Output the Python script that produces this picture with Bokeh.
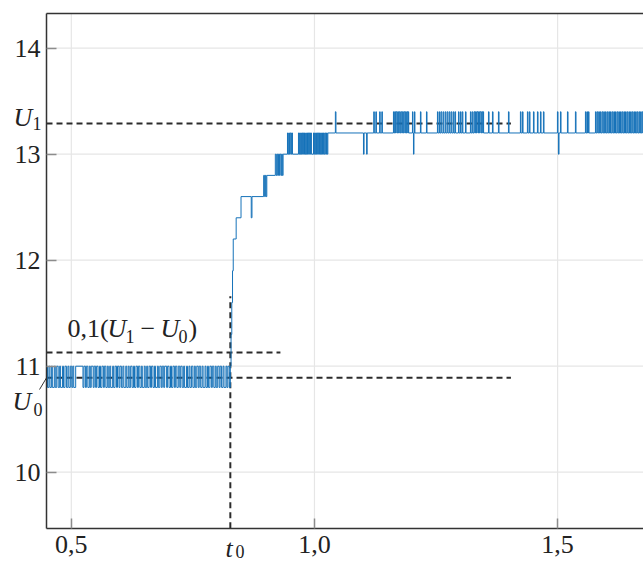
from bokeh.plotting import figure
from bokeh.models import FixedTicker, Label, Range1d
from bokeh.embed import file_html
from bokeh.resources import INLINE

# ---- axes / ticks ----
y_ticks = [10, 11, 12, 13, 14]
x_ticks = [0.5, 1.0, 1.5]
x_tick_labels = ["0,5", "1,0", "1,5"]
x_min, x_max = 0.449, 1.6766      # plotted time span (axis box)
y_min, y_max = 9.472, 14.327      # plotted voltage span (axis box)
x_view = (0.3544, 1.6766)         # whole picture incl. label margins
y_view = (9.139, 14.4496)

# ---- characteristic levels ----
U0 = 10.89
U1 = 13.29
U_10 = 11.13          # U0 + 0,1(U1 - U0)
t0 = 0.827
u_line_end = 1.404    # end of U0 / U1 dashed lines
u10_line_end = 0.930  # end of 0,1(U1-U0) dashed line
t0_line_top = 11.66   # top of t0 dashed line
leader_end = (0.4346, 10.78)  # end of U0 leader line

# ---- measured signal: before the step ----
t_pre = [0.449, 0.451, 0.454, 0.456, 0.459, 0.461, 0.465, 0.467, 0.470, 0.473,
         0.476, 0.478, 0.482, 0.484, 0.487, 0.490, 0.493, 0.495, 0.498, 0.501,
         0.503, 0.505, 0.509, 0.524, 0.526, 0.529, 0.531, 0.534, 0.537, 0.539,
         0.541, 0.545, 0.547, 0.550, 0.552, 0.555, 0.558, 0.560, 0.563, 0.566,
         0.568, 0.571, 0.574, 0.576, 0.579, 0.581, 0.585, 0.587, 0.590, 0.593,
         0.595, 0.598, 0.600, 0.603, 0.606, 0.608, 0.612, 0.614, 0.617, 0.619,
         0.622, 0.625, 0.628, 0.630, 0.633, 0.636, 0.638, 0.641, 0.644, 0.646,
         0.650, 0.652, 0.655, 0.657, 0.660, 0.663, 0.665, 0.668, 0.671, 0.673,
         0.677, 0.679, 0.682, 0.685, 0.687, 0.690, 0.692, 0.696, 0.698, 0.701,
         0.704, 0.706, 0.709, 0.712, 0.714, 0.717, 0.720, 0.723, 0.725, 0.728,
         0.731, 0.733, 0.737, 0.739, 0.742, 0.744, 0.747, 0.750, 0.753, 0.755,
         0.758, 0.761, 0.763, 0.766, 0.769, 0.771, 0.775, 0.777, 0.780, 0.782,
         0.785, 0.788, 0.790, 0.793, 0.796, 0.798, 0.801, 0.804, 0.806, 0.809,
         0.812, 0.814, 0.818, 0.820, 0.822, 0.825, 0.827]
u_pre = [11.0, 10.8, 11.0, 10.8, 11.0, 10.8, 11.0, 10.8, 11.0, 10.8,
         11.0, 10.8, 11.0, 10.8, 11.0, 10.8, 11.0, 10.8, 11.0, 10.8,
         11.0, 10.8, 11.0, 10.8, 11.0, 10.8, 11.0, 10.8, 11.0, 10.8,
         11.0, 10.8, 11.0, 10.8, 11.0, 10.8, 11.0, 10.8, 11.0, 10.8,
         11.0, 10.8, 11.0, 10.8, 11.0, 10.8, 11.0, 10.8, 11.0, 10.8,
         11.0, 10.8, 11.0, 10.8, 11.0, 10.8, 11.0, 10.8, 11.0, 10.8,
         11.0, 10.8, 11.0, 10.8, 11.0, 10.8, 11.0, 10.8, 11.0, 10.8,
         11.0, 10.8, 11.0, 10.8, 11.0, 10.8, 11.0, 10.8, 11.0, 10.8,
         11.0, 10.8, 11.0, 10.8, 11.0, 10.8, 11.0, 10.8, 11.0, 10.8,
         11.0, 10.8, 11.0, 10.8, 11.0, 10.8, 11.0, 10.8, 11.0, 10.8,
         11.0, 10.8, 11.0, 10.8, 11.0, 10.8, 11.0, 10.8, 11.0, 10.8,
         11.0, 10.8, 11.0, 10.8, 11.0, 10.8, 11.0, 10.8, 11.0, 10.8,
         11.0, 10.8, 11.0, 10.8, 11.0, 10.8, 11.0, 10.8, 11.0, 10.8,
         11.0, 10.8, 11.0, 10.8, 11.0, 10.8, 11.0]

# ---- rise ----
t_rise = [0.8285, 0.830, 0.8315, 0.833, 0.839, 0.849, 0.870, 0.8715, 0.8955, 0.8975,
          0.899, 0.9005, 0.902, 0.9195, 0.9215, 0.923, 0.9245, 0.926, 0.928, 0.929,
          0.931, 0.9325, 0.934, 0.9355]
u_rise = [11.3, 11.6, 11.9, 12.2, 12.4, 12.6, 12.4, 12.6, 12.8, 12.6,
          12.8, 12.6, 12.8, 13.0, 12.8, 13.0, 12.8, 13.0, 12.8, 13.0,
          12.8, 13.0, 12.8, 13.0]

# ---- settling 13.0 / 13.2 ----
t_mid = [0.9445, 0.9458, 0.9472, 0.9486, 0.9500, 0.9515, 0.9530, 0.9548,
         0.9671, 0.9683, 0.9695, 0.9708, 0.9720, 0.9731, 0.9745, 0.9757, 0.9770, 0.9781,
         0.9795, 0.9806, 0.9820, 0.9832, 0.9844, 0.9857, 0.9869, 0.9881, 0.9894, 0.9906,
         0.9918, 0.9938,
         0.9980, 0.9992, 1.0004, 1.0017, 1.0029, 1.0041, 1.0054, 1.0066, 1.0079, 1.0091,
         1.0103, 1.0116, 1.0128, 1.0140, 1.0152, 1.0165,
         1.0185, 1.0198, 1.0212, 1.0230, 1.0248, 1.0262, 1.0275]
u_mid = [13.2, 13.0, 13.2, 13.0, 13.2, 13.0, 13.2, 13.0,
         13.2, 13.0, 13.2, 13.0, 13.2, 13.0, 13.2, 13.0, 13.2, 13.0,
         13.2, 13.0, 13.2, 13.0, 13.2, 13.0, 13.2, 13.0, 13.2, 13.0,
         13.2, 13.0,
         13.2, 13.0, 13.2, 13.0, 13.2, 13.0, 13.2, 13.0, 13.2, 13.0,
         13.2, 13.0, 13.2, 13.0, 13.2, 13.0,
         13.2, 13.0, 13.2, 13.0, 13.2, 13.0, 13.2]

# ---- steady state 13.2 with spikes ----
t_post = [1.0430, 1.0442, 1.1008, 1.1020, 1.1072, 1.1084,
          1.1219, 1.1231, 1.1262, 1.1274, 1.1340, 1.1352, 1.1385, 1.1397,
          1.1624, 1.1640, 1.1652, 1.1668, 1.1680, 1.1700, 1.1712, 1.1730, 1.1744, 1.1762,
          1.1775, 1.1795, 1.1808, 1.1826, 1.1838, 1.1858, 1.1870, 1.1890, 1.1903, 1.1920,
          1.1928, 1.1938,
          1.2015, 1.2025, 1.2036, 1.2046, 1.2056, 1.2066,
          1.2179, 1.2190, 1.2303, 1.2314,
          1.2529, 1.2541, 1.2570, 1.2582, 1.2605, 1.2620, 1.2648, 1.2660, 1.2690, 1.2703,
          1.2730, 1.2745, 1.2772, 1.2786, 1.2812, 1.2826, 1.2855, 1.2868, 1.2890, 1.2902,
          1.2961, 1.2973, 1.3002, 1.3014, 1.3040, 1.3052, 1.3105, 1.3117,
          1.3207, 1.3220, 1.3245, 1.3258, 1.3282, 1.3298, 1.3310, 1.3330, 1.3342, 1.3362,
          1.3374, 1.3395, 1.3406, 1.3428, 1.3440, 1.3460, 1.3468, 1.3478,
          1.3578, 1.3590, 1.3660, 1.3672, 1.3783, 1.3795, 1.3989, 1.4001,
          1.4235, 1.4247, 1.4277, 1.4289, 1.4379, 1.4391, 1.4420, 1.4432,
          1.4503, 1.4515, 1.4585, 1.4597, 1.4647, 1.4659, 1.4708, 1.4720,
          1.4996, 1.5008, 1.5017, 1.5029, 1.5058, 1.5070, 1.5202, 1.5214, 1.5366, 1.5378,
          1.5572, 1.5584, 1.5603, 1.5615, 1.5634, 1.5646,
          1.5778, 1.5792, 1.5812, 1.5826, 1.5845, 1.5860, 1.5880, 1.5893, 1.5915, 1.5930,
          1.5948, 1.5962, 1.5983, 1.5997, 1.6018, 1.6031, 1.6052, 1.6068, 1.6087, 1.6100,
          1.6122, 1.6136, 1.6155, 1.6170, 1.6190, 1.6203, 1.6225, 1.6240, 1.6258, 1.6272,
          1.6293, 1.6307, 1.6327, 1.6341, 1.6362, 1.6376, 1.6396, 1.6410, 1.6430, 1.6444,
          1.6465, 1.6479, 1.6500, 1.6514, 1.6534, 1.6548, 1.6568, 1.6582, 1.6603, 1.6617,
          1.6637, 1.6651, 1.6672, 1.6686, 1.6706, 1.6720, 1.6740, 1.6754, 1.6770]
u_post = [13.4, 13.2, 13.0, 13.2, 13.0, 13.2,
          13.4, 13.2, 13.4, 13.2, 13.4, 13.2, 13.4, 13.2,
          13.4, 13.2, 13.4, 13.2, 13.4, 13.2, 13.4, 13.2, 13.4, 13.2,
          13.4, 13.2, 13.4, 13.2, 13.4, 13.2, 13.4, 13.2, 13.4, 13.2,
          13.4, 13.2,
          13.4, 13.2, 13.0, 13.2, 13.4, 13.2,
          13.4, 13.2, 13.4, 13.2,
          13.4, 13.2, 13.4, 13.2, 13.4, 13.2, 13.4, 13.2, 13.4, 13.2,
          13.4, 13.2, 13.4, 13.2, 13.4, 13.2, 13.4, 13.2, 13.4, 13.2,
          13.4, 13.2, 13.4, 13.2, 13.4, 13.2, 13.4, 13.2,
          13.4, 13.2, 13.4, 13.2, 13.4, 13.2, 13.4, 13.2, 13.4, 13.2,
          13.4, 13.2, 13.4, 13.2, 13.4, 13.2, 13.4, 13.2,
          13.4, 13.2, 13.4, 13.2, 13.4, 13.2, 13.4, 13.2,
          13.4, 13.2, 13.4, 13.2, 13.4, 13.2, 13.4, 13.2,
          13.4, 13.2, 13.4, 13.2, 13.4, 13.2, 13.4, 13.2,
          13.4, 13.2, 13.0, 13.2, 13.4, 13.2, 13.4, 13.2, 13.4, 13.2,
          13.4, 13.2, 13.4, 13.2, 13.4, 13.2,
          13.4, 13.2, 13.4, 13.2, 13.4, 13.2, 13.4, 13.2, 13.4, 13.2,
          13.4, 13.2, 13.4, 13.2, 13.4, 13.2, 13.4, 13.2, 13.4, 13.2,
          13.4, 13.2, 13.4, 13.2, 13.4, 13.2, 13.4, 13.2, 13.4, 13.2,
          13.4, 13.2, 13.4, 13.2, 13.4, 13.2, 13.4, 13.2, 13.4, 13.2,
          13.4, 13.2, 13.4, 13.2, 13.4, 13.2, 13.4, 13.2, 13.4, 13.2,
          13.4, 13.2, 13.4, 13.2, 13.4, 13.2, 13.4, 13.2, 13.2]

t_all = t_pre + t_rise + t_mid + t_post
u_all = u_pre + u_rise + u_mid + u_post

SERIF = "Liberation Serif"
FS = "26px"
FS_SUB = "18px"
DASH_COL = "#2b2b2b"
AXIS_COL = "#333333"
GRID_COL = "#e6e6e6"
BLUE = "#1672b9"

p = figure(width=643, height=563, output_backend="svg", toolbar_location=None,
           x_range=Range1d(*x_view), y_range=Range1d(*y_view),
           min_border=0, min_border_left=0, min_border_right=0,
           min_border_top=0, min_border_bottom=0)
p.outline_line_color = None
p.background_fill_color = "white"
p.border_fill_color = "white"
p.xgrid.visible = False
p.ygrid.visible = False

# axes drawn at the edges of the data box
xa, ya = p.xaxis[0], p.yaxis[0]
xa.fixed_location = y_min
ya.fixed_location = x_min
xa.bounds = (x_min, x_max)
ya.bounds = (y_min, y_max)
xa.ticker = FixedTicker(ticks=x_ticks)
xa.major_label_overrides = {v: s for v, s in zip(x_ticks, x_tick_labels)}
ya.ticker = FixedTicker(ticks=y_ticks)
for ax in (xa, ya):
    ax.axis_line_color = AXIS_COL
    ax.axis_line_width = 1.5
    ax.major_tick_in = 10
    ax.major_tick_out = 0
    ax.major_tick_line_color = "#8c8c8c"
    ax.major_tick_line_width = 1.5
    ax.minor_tick_line_color = None
    ax.major_label_text_font = SERIF
    ax.major_label_text_font_size = FS
    ax.major_label_text_color = "#222222"
ya.major_label_standoff = 6
xa.major_label_standoff = 8

# grid lines inside the data box
p.segment(x0=x_ticks, y0=[y_min] * len(x_ticks), x1=x_ticks, y1=[y_max] * len(x_ticks),
          line_color=GRID_COL, line_width=1.2, level="underlay")
p.segment(x0=[x_min] * len(y_ticks), y0=y_ticks, x1=[x_max] * len(y_ticks), y1=y_ticks,
          line_color=GRID_COL, line_width=1.2, level="underlay")
# top frame line
p.line([x_min, x_max], [y_max, y_max], line_color=AXIS_COL, line_width=1.5)

# dashed reference lines
dash = dict(line_color=DASH_COL, line_width=2, line_dash="6 4")
p.line([x_min, u_line_end], [U1, U1], **dash)
p.line([x_min, u_line_end], [U0, U0], **dash)
p.line([x_min, u10_line_end], [U_10, U_10], **dash)
p.line([t0, t0], [y_min, t0_line_top], **dash)

# signal
p.step(t_all, u_all, mode="after", line_color=BLUE, line_width=1.0)

# U0 leader line
p.line([x_min, leader_end[0]], [U0, leader_end[1]], line_color=AXIS_COL, line_width=1)

def lab(x, y, text, italic=False, size=FS):
    p.add_layout(Label(x=x, y=y, text=text, text_font=SERIF, text_font_size=size,
                       text_font_style="italic" if italic else "normal",
                       text_color="#222222", text_baseline="middle", text_align="left"))

# U1 label
lab(0.3811, 13.3415, "U", italic=True)
lab(0.4202, 13.2849, "1", size=FS_SUB)
# U0 label
lab(0.3791, 10.667, "U", italic=True)
lab(0.4223, 10.5915, "0", size=FS_SUB)
# t0 label
lab(0.817, 9.2802, "t", italic=True)
lab(0.8377, 9.2519, "0", size=FS_SUB)
# 0,1(U1 - U0)
lab(0.4922, 11.3557, "0,1(")
lab(0.5744, 11.3557, "U", italic=True)
lab(0.6114, 11.2802, "1", size=FS_SUB)
lab(0.6423, 11.3557, "\u2212")
lab(0.6834, 11.3557, "U", italic=True)
lab(0.7204, 11.2802, "0", size=FS_SUB)
lab(0.7410, 11.3557, ")")

open("out.html", "w").write(file_html(p, INLINE))
